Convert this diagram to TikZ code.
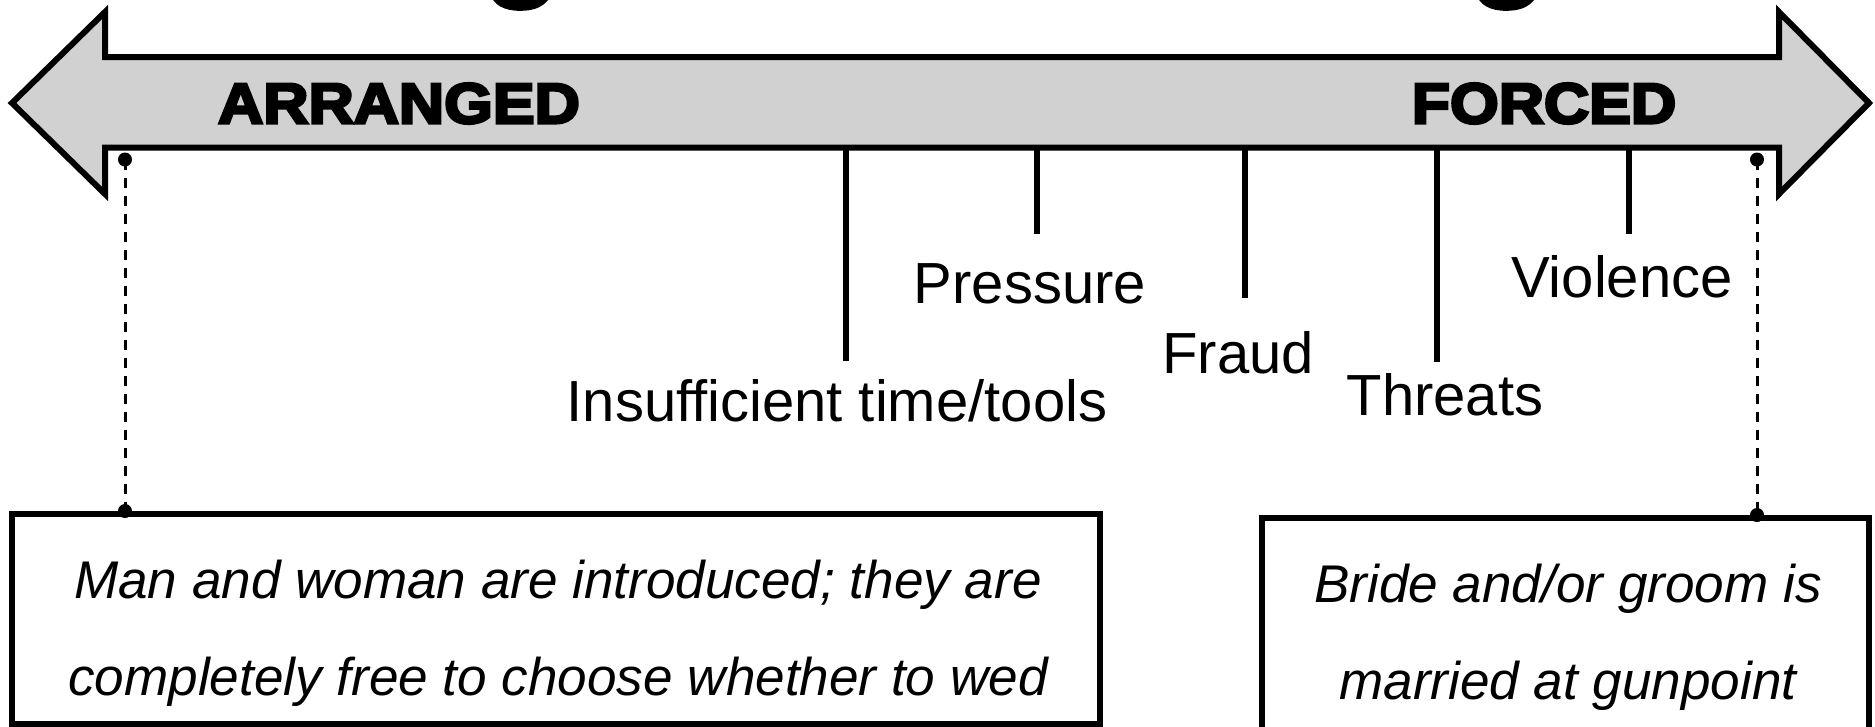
\documentclass[tikz,border=0pt]{standalone}
\usepackage{fontspec}
\setsansfont{Liberation Sans}
\newfontfamily\heavyfont{Liberation Sans}[FakeStretch=1.1, FakeBold=5, BoldFeatures={FakeBold=5}]

\newcommand{\pole}[1]{{\heavyfont\bfseries\fontsize{16.2}{18}\selectfont #1}}
\newcommand{\cause}[1]{{\fontsize{16.5}{19}\selectfont #1}}

\begin{document}
\begin{tikzpicture}[every node/.style={align=center, inner sep=0pt},
    causeline/.style={line width=0.055cm},
    dashlink/.style={line width=0.03cm, dash pattern=on 0.1cm off 0.08cm},
    endbox/.style={draw, line width=0.06cm},
    boxtext/.style={font=\itshape\fontsize{15.1}{27.5}\selectfont}]\sffamily
  \useasboundingbox (0,0) rectangle (18.75,-7.27);
  \clip (0,0) rectangle (18.75,-7.27);

  % cut-off title
  \node[anchor=base, font=\heavyfont\bfseries\fontsize{31}{36}\selectfont]
    (titleA) at (5.22, 0.15) {g};
  \node[anchor=base, font=\heavyfont\bfseries\fontsize{31}{36}\selectfont]
    (titleB) at (15.08, 0.15) {g};

  % the scale
  \draw[line width=0.06cm, fill=white!82!black, line join=miter]
    (0.12,-1.03) -- (1.05,-0.12) -- (1.05,-0.57) -- (17.79,-0.57)
    -- (17.79,-0.12) -- (18.69,-1.03) -- (17.79,-1.94) -- (17.79,-1.475)
    -- (1.05,-1.475) -- (1.05,-1.94) -- cycle;

  \node[]
    (arranged) at (3.99, -1.035)
    {\pole{ARRANGED}};

  \node[]
    (forced) at (15.44, -1.035)
    {\pole{FORCED}};

  % causes
  \coordinate (tA) at (8.46, -1.475);
  \coordinate (bA) at (8.46, -3.61);
  \coordinate (tB) at (10.37, -1.475);
  \coordinate (bB) at (10.37, -2.34);
  \coordinate (tC) at (12.45, -1.46);
  \coordinate (bC) at (12.45, -2.98);
  \coordinate (tD) at (14.37, -1.46);
  \coordinate (bD) at (14.37, -3.62);
  \coordinate (tE) at (16.29, -1.475);
  \coordinate (bE) at (16.29, -2.34);

  \draw[causeline] (tA) -- (bA);
  \draw[causeline] (tB) -- (bB);
  \draw[causeline] (tC) -- (bC);
  \draw[causeline] (tD) -- (bD);
  \draw[causeline] (tE) -- (bE);

  \node[anchor=base]
    (tools) at (8.37, -4.21)
    {\cause{Insufficient time/tools}};

  \node[anchor=base]
    (pressure) at (10.30, -3.03)
    {\cause{Pressure}};

  \node[anchor=base]
    (fraud) at (12.38, -3.73)
    {\cause{Fraud}};

  \node[anchor=base]
    (threats) at (14.45, -4.15)
    {\cause{Threats}};

  \node[anchor=base]
    (violence) at (16.22, -2.97)
    {\cause{Violence}};

  % examples at both ends
  \node[endbox, minimum width=10.88cm, minimum height=2.10cm]
    (Abox) at (5.56, -6.19) {};

  \node[boxtext]
    (Atext) at (5.58, -6.33)
    {Man and woman are introduced; they are\\
    completely free to choose whether to wed};

  \node[endbox, minimum width=6.07cm, minimum height=2.62cm]
    (Fbox) at (15.655, -6.49) {};

  \node[boxtext]
    (Ftext) at (15.68, -6.37)
    {Bride and/or groom is\\
    married at gunpoint};

  \coordinate (aDot) at (1.25, -1.595);
  \coordinate (fDot) at (17.57, -1.595);

  \draw[dashlink] (aDot) -- (aDot |- Abox.north);
  \draw[dashlink] (fDot) -- (fDot |- Fbox.north);
  \fill (aDot) circle (0.07);
  \fill (aDot |- Abox.north) circle (0.07);
  \fill (fDot) circle (0.07);
  \fill (fDot |- Fbox.north) circle (0.07);

\end{tikzpicture}
\end{document}
